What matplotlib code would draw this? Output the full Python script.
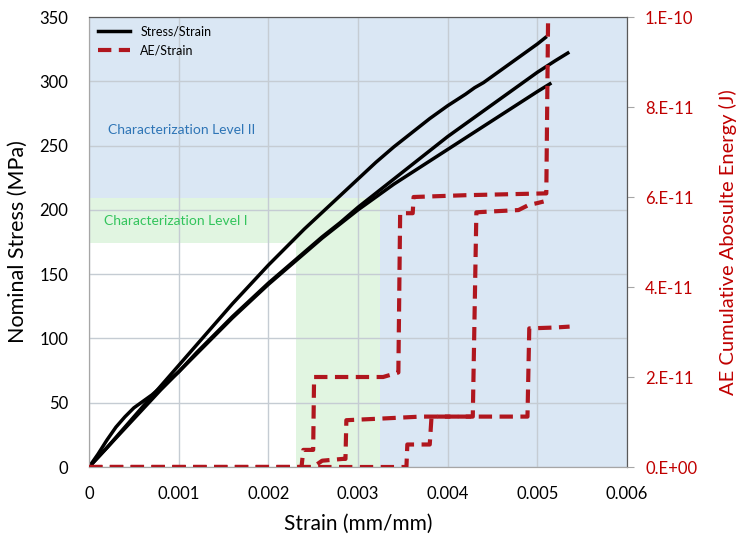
import matplotlib.pyplot as plt
import numpy as np
from matplotlib.ticker import FixedLocator

plt.rcParams['font.family'] = ['Lato', 'DejaVu Sans']

# stress/strain curves (three specimens)
strain_1 = [0, 0.0002, 0.0004, 0.0006, 0.0008, 0.001, 0.0012, 0.0014, 0.0016, 0.0018, 0.002, 0.0022,
            0.0024, 0.0026, 0.0028, 0.003, 0.0032, 0.0034, 0.0036, 0.0038, 0.004, 0.0042, 0.0043,
            0.0044, 0.0046, 0.0048, 0.005, 0.00509]
stress_1 = [0, 15, 31, 47, 63, 79, 95, 111, 127, 142, 157, 171,
            185, 198, 211, 224, 237, 249, 260, 271, 281, 290, 295,
            299, 309, 319, 329, 334]

strain_2 = [0, 0.0002, 0.0004, 0.0006, 0.0008, 0.001, 0.0012, 0.0014, 0.0016, 0.0018, 0.002, 0.0022,
            0.0024, 0.0026, 0.0028, 0.003, 0.0032, 0.0034, 0.0036, 0.0038, 0.004, 0.0042, 0.0044,
            0.0046, 0.0048, 0.005, 0.0052, 0.00534]
stress_2 = [0, 15, 30, 45, 60, 74, 89, 103, 117, 130, 143, 155,
            167, 179, 190, 202, 213, 224, 235, 246, 257, 267, 277,
            287, 297, 307, 316, 322]

strain_3 = [0, 0.0001, 0.0002, 0.0003, 0.0004, 0.0005, 0.0006, 0.0007, 0.0008, 0.001, 0.0012, 0.0014,
            0.0016, 0.0018, 0.002, 0.0022, 0.0024, 0.0026, 0.0028, 0.003, 0.0032, 0.0034, 0.0036,
            0.0038, 0.004, 0.0042, 0.0044, 0.0046, 0.0048, 0.005, 0.00514]
stress_3 = [0, 10, 21, 31, 39, 46, 51, 56, 62, 74, 88, 102,
            116, 129, 142, 154, 166, 178, 189, 200, 210, 220, 229,
            238, 247, 256, 265, 274, 283, 292, 298]

# AE cumulative absolute energy (x 1e-11 J)
ae_strain_1 = [0, 0.00237, 0.00239, 0.00250, 0.00251, 0.00328, 0.00345, 0.00347, 0.00361, 0.00362, 0.00420, 0.00508, 0.00510, 0.00512]
ae_energy_1 = [0, 0, 0.38, 0.38, 2.0, 2.0, 2.1, 5.64, 5.64, 6.0, 6.04, 6.08, 6.08, 10.0]

ae_strain_2 = [0, 0.00250, 0.00260, 0.00283, 0.00286, 0.00287, 0.0033, 0.0037, 0.00428, 0.00432, 0.0045, 0.00479, 0.00490, 0.00499, 0.00507]
ae_energy_2 = [0, 0, 0.14, 0.18, 0.18, 1.04, 1.08, 1.12, 1.12, 5.66, 5.68, 5.71, 5.82, 5.86, 5.90]

ae_strain_3 = [0, 0.00354, 0.00355, 0.00380, 0.00382, 0.00420, 0.00489, 0.00491, 0.00520, 0.00536]
ae_energy_3 = [0, 0, 0.5, 0.5, 1.12, 1.12, 1.12, 3.08, 3.10, 3.12]

x_ticks = [0, 0.001, 0.002, 0.003, 0.004, 0.005, 0.006]
x_labels = ['0', '0.001', '0.002', '0.003', '0.004', '0.005', '0.006']
y_ticks = [0, 50, 100, 150, 200, 250, 300, 350]
y2_ticks = [0, 2e-11, 4e-11, 6e-11, 8e-11, 1e-10]
y2_labels = ['0.E+00', '2.E-11', '4.E-11', '6.E-11', '8.E-11', '1.E-10']

blue = '#dae7f4'
green = '#e1f5e1'
red = '#b0161e'

fig = plt.figure(figsize=(7.4, 5.35), dpi=100)
ax = fig.add_axes([0.1203, 0.1271, 0.7270, 0.8411])
ax.set_xlim(0, 0.006)
ax.set_ylim(0, 350)

# characterization zones
ax.add_patch(plt.Rectangle((0, 0), 0.006, 350, color=blue, zorder=0.2, lw=0))
ax.add_patch(plt.Rectangle((0, 0), 0.00324, 209, color=green, zorder=0.3, lw=0))
ax.add_patch(plt.Rectangle((0, 0), 0.00231, 174, color='white', zorder=0.4, lw=0))
ax.text(0.00021, 262, 'Characterization Level II', color='#2e75b6', fontsize=10, va='center')
ax.text(0.00017, 191, 'Characterization Level I', color='#33c45c', fontsize=10, va='center')

ax.grid(True, color='#c5ccd3', lw=1)
for xs, ys in [(strain_1, stress_1), (strain_2, stress_2), (strain_3, stress_3)]:
    ax.plot(xs, ys, color='black', lw=2.5, zorder=2)

ax.set_xticks(x_ticks)
ax.set_xticklabels(x_labels)
ax.set_yticks(y_ticks)
ax.tick_params(axis='x', length=0, labelsize=12, pad=14)
ax.tick_params(axis='y', length=0, labelsize=12, pad=15)
ax.set_xlabel('Strain (mm/mm)', fontsize=15, labelpad=8)
ax.set_ylabel('Nominal Stress (MPa)', fontsize=15.5, labelpad=8)
for s in ['left', 'bottom']:
    ax.spines[s].set_color('#a6a6a6')
for s in ['top', 'right']:
    ax.spines[s].set_color('#595959')

ax2 = ax.twinx()
ax2.set_ylim(0, 1e-10)
for xs, ys in [(ae_strain_1, ae_energy_1), (ae_strain_2, ae_energy_2), (ae_strain_3, ae_energy_3)]:
    ax2.plot(xs, np.array(ys) * 1e-11, color=red, lw=3, ls=(0, (3.2, 1.8)), zorder=3)
ax2.yaxis.set_major_locator(FixedLocator(y2_ticks))
ax2.set_yticklabels(y2_labels)
ax2.tick_params(axis='y', colors='#a6a6a6', labelcolor='#c00000', length=5, labelsize=12, pad=8)
ax2.set_ylabel('AE Cumulative Abosulte Energy (J)', color='#c00000', fontsize=14.5, labelpad=16)
ax2.spines['right'].set_color('#595959')
ax2.spines['top'].set_color('#595959')
ax2.spines['left'].set_color('#a6a6a6')
ax2.spines['bottom'].set_color('#a6a6a6')

h1 = plt.Line2D([], [], color='black', lw=2.5)
h2 = plt.Line2D([], [], color=red, lw=3, ls=(0, (3.2, 1.8)))
ax2.legend([h1, h2], ['Stress/Strain', 'AE/Strain'], loc='upper left', frameon=False,
           fontsize=9, handlelength=2.6, borderaxespad=0.3, labelspacing=0.5)

fig.savefig('out.png', dpi=100)
